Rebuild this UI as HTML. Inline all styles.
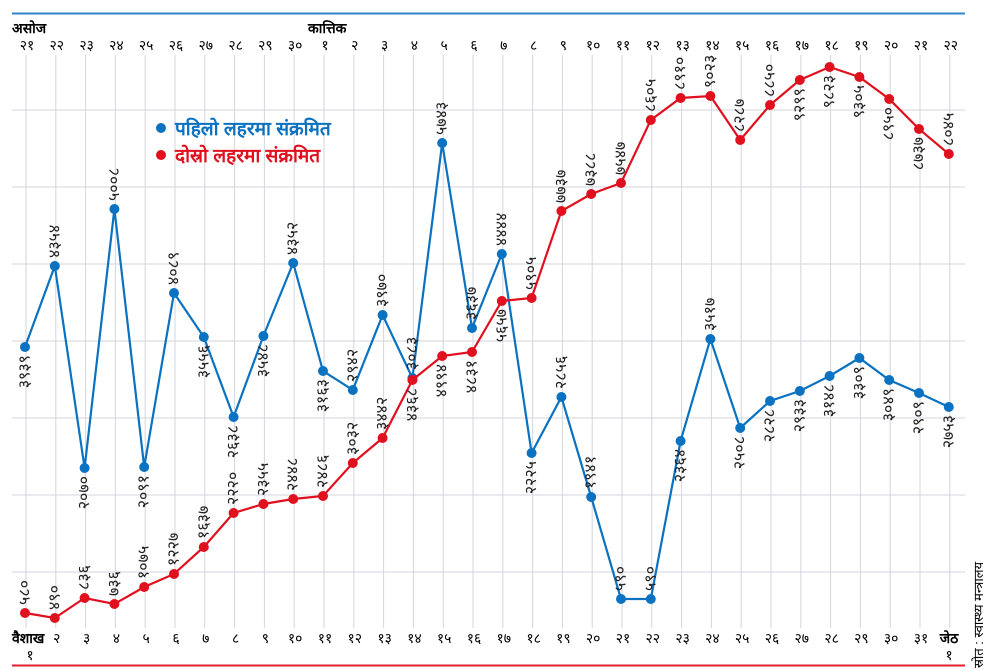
<!DOCTYPE html>
<html><head><meta charset="utf-8"><style>
body{margin:0;background:#fff}
svg{display:block}
text{font-family:"Liberation Sans","Noto Sans CJK SC",sans-serif}
</style></head><body>
<svg id="c" width="1000" height="671" viewBox="0 0 1000 671" xmlns="http://www.w3.org/2000/svg">
<line x1="12" y1="13.5" x2="965" y2="13.5" stroke="#2f86c8" stroke-width="2"/>
<line x1="12" y1="665.5" x2="965" y2="665.5" stroke="#e0202e" stroke-width="2"/>
<g id="grid" stroke="#d4d6de" stroke-width="1"></g>
<text x="12" y="33" font-size="14" font-weight="bold">असोज</text>
<text x="308" y="33" font-size="14" font-weight="bold">कात्तिक</text>
<g id="topl" font-size="14" text-anchor="middle"></g>
<g id="bot" font-size="14" text-anchor="middle"></g>
<text x="12" y="643" font-size="14" font-weight="bold">वैशाख</text>
<text x="30" y="660" font-size="14" text-anchor="middle">१</text>
<text x="949" y="643" font-size="14" font-weight="bold" text-anchor="middle">जेठ</text>
<text x="949" y="660" font-size="14" text-anchor="middle">१</text>
<g id="series"></g>
<circle cx="161" cy="128" r="5" fill="#0a72c0"/>
<text x="175" y="135" font-size="19" font-weight="bold" fill="#0a72c0">पहिलो लहरमा संक्रमित</text>
<circle cx="161" cy="155" r="5" fill="#e0101e"/>
<text x="175" y="162" font-size="19" font-weight="bold" fill="#e0101e">दोस्रो लहरमा संक्रमित</text>
<text transform="translate(983,668) rotate(-90)" font-size="13">स्रोत : स्वास्थ्य मन्त्रालय</text>
</svg>
<script>
(function(){
const NS="http://www.w3.org/2000/svg";
const dv=n=>String(n).replace(/\d/g,d=>"०१२३४५६७८९"[d]);
function el(p,t,a,txt){const e=document.createElementNS(NS,t);for(const k in a)e.setAttribute(k,a[k]);if(txt!==undefined)e.textContent=txt;document.getElementById(p).appendChild(e);return e;}
const X=i=>25+i*29.8;
[110,187,264,341,418,495,572].forEach(y=>el('grid','line',{x1:12,x2:965,y1:y,y2:y}));
for(let i=0;i<32;i++){el('grid','line',{x1:X(i)+1,x2:X(i)+1,y1:55,y2:628});}
const topL=[21,22,23,24,25,26,27,28,29,30,1,2,3,4,5,6,7,8,9,10,11,12,13,14,15,16,17,18,19,20,21,22];
topL.forEach((v,i)=>el('topl','text',{x:X(i)+2,y:50},dv(v)));
for(let i=1;i<31;i++)el('bot','text',{x:X(i)+2,y:643},dv(i+1));
const bv=[3939,4354,2070,5008,2091,4089,3556,2638,3548,4352,3163,2942,3970,3083,5743,3637,4444,2225,2856,1941,590,590,2364,3517,2508,2828,2933,3148,3309,3049,2909,2753];
const byy=[347,266,468,209,467,293,337,417,336,263,371,390,315,378,143,328,254,453,397,497,599,599,441,339,428,401,391,376,358,380,393,407];
const bpos="dudududdduduuuuuuduuuududddddddd";
const ry=[613,618,598,604,587,574,547,513,504,499,496,463,438,380,356,352,301,298,211,194,183,120,98,96,140,105,80,67,77,99,129,154];
const rl=[580,490,836,736,1075,1227,1637,2220,2355,2448,2486,3032,3442,4368,4994,4831,5657,5905,7737,7388,7547,8605,8910,9023,8287,8850,9299,9823,9305,8950,8737,8045];
const rpos="uuuuuuuuuuuuudddduuuuuuuuudddddu";
function series(vals,ys,pos,col){
 const pts=ys.map((y,i)=>X(i)+','+y).join(' ');
 el('series','polyline',{points:pts,fill:'none',stroke:col,'stroke-width':2.2});
 ys.forEach((y,i)=>{const x=X(i);el('series','circle',{cx:x,cy:y,r:5,fill:col});
  const up=pos[i]=='u';const ty=up?y-8:y+8;
  el('series','text',{x:x,y:ty,'font-size':16,'text-anchor':up?'start':'end','dominant-baseline':'central',transform:`rotate(-90,${x},${ty})`,fill:'#222'},dv(vals[i]));});
}
series(bv,byy,bpos,'#0a72c0');
series(rl,ry,rpos,'#e0101e');
})();
</script>
</body></html>
